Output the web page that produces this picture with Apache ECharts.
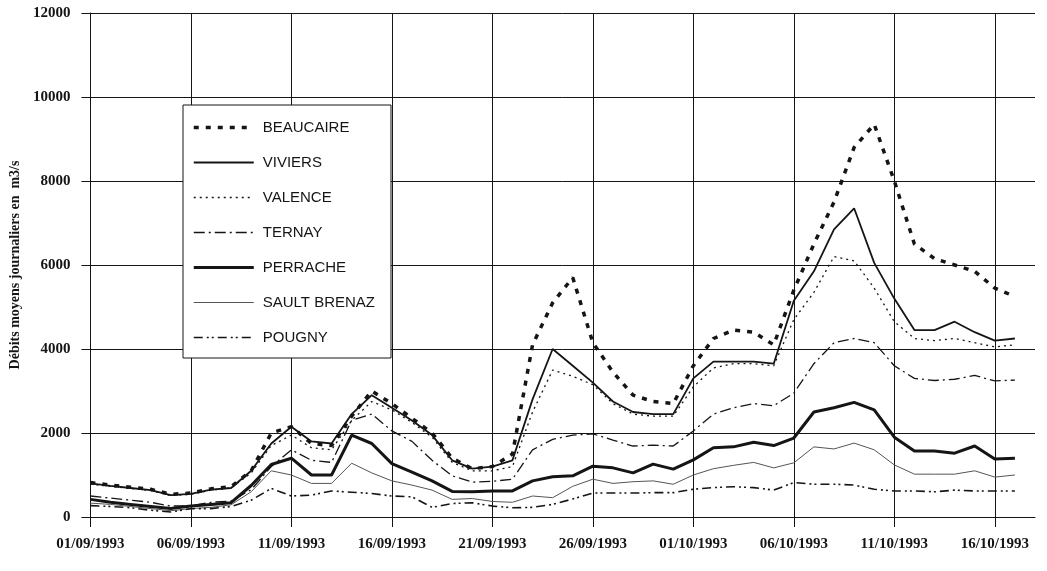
<!DOCTYPE html>
<html>
<head>
<meta charset="utf-8">
<script src="https://cdn.jsdelivr.net/npm/echarts@6/dist/echarts.min.js"></script>
<style>
  html, body { margin: 0; padding: 0; background: #fff; }
  #chart { width: 1047px; height: 571px; }
</style>
</head>
<body>
<div id="chart"></div>
<script>
// days 01/09/1993 .. 18/10/1993 (axis runs a bit past the last measure)
const categories = []
for (let i = 0; i < 48; i++) {
  const d = new Date(1993, 8, 1 + i)
  categories.push(String(d.getDate()).padStart(2, '0') + '/' + String(d.getMonth() + 1).padStart(2, '0') + '/1993')
}

const yTicks = [0, 2000, 4000, 6000, 8000, 10000, 12000]

// Débits moyens journaliers (m3/s), 01/09 -> 17/10
const beaucaire = [820, 760, 710, 660, 540, 570, 670, 720, 1100, 2000, 2150, 1750, 1700, 2400, 3000, 2700, 2350, 2000, 1400, 1150, 1200, 1500, 4100, 5100, 5700, 4150, 3450, 2900, 2750, 2700, 3600, 4250, 4450, 4400, 4100, 5400, 6500, 7500, 8800, 9350, 8000, 6500, 6150, 6000, 5850, 5450, 5250]
const viviers = [800, 740, 690, 640, 520, 550, 650, 690, 1100, 1750, 2150, 1800, 1750, 2450, 2900, 2600, 2300, 1950, 1350, 1150, 1200, 1350, 2800, 4000, 3600, 3200, 2750, 2500, 2450, 2450, 3300, 3700, 3700, 3700, 3650, 5150, 5850, 6850, 7350, 6050, 5200, 4450, 4450, 4650, 4400, 4200, 4250]
const valence = [780, 730, 680, 630, 510, 540, 640, 690, 1050, 1700, 1950, 1650, 1600, 2300, 2750, 2550, 2250, 1900, 1300, 1100, 1100, 1200, 2500, 3500, 3350, 3150, 2700, 2450, 2400, 2400, 3100, 3550, 3650, 3650, 3600, 4700, 5350, 6200, 6100, 5450, 4650, 4250, 4200, 4250, 4150, 4050, 4100]
const ternay = [500, 450, 400, 350, 260, 270, 350, 380, 650, 1200, 1600, 1350, 1300, 2300, 2450, 2050, 1800, 1350, 980, 830, 850, 900, 1600, 1850, 1950, 1980, 1830, 1690, 1710, 1690, 2050, 2450, 2600, 2700, 2650, 2950, 3650, 4150, 4250, 4150, 3600, 3300, 3250, 3280, 3370, 3240, 3260]
const perrache = [420, 350, 300, 250, 200, 260, 300, 340, 750, 1250, 1400, 1000, 1000, 1950, 1750, 1270, 1070, 860, 610, 600, 620, 620, 860, 960, 980, 1210, 1170, 1050, 1260, 1140, 1360, 1650, 1670, 1780, 1700, 1880, 2500, 2600, 2730, 2550, 1900, 1570, 1570, 1520, 1690, 1380, 1400]
const saultBrenaz = [330, 300, 250, 200, 150, 200, 230, 290, 600, 1100, 1000, 800, 800, 1280, 1050, 860, 760, 640, 420, 440, 370, 350, 500, 460, 730, 900, 800, 840, 860, 780, 1000, 1150, 1230, 1300, 1170, 1290, 1670, 1620, 1760, 1600, 1240, 1020, 1020, 1020, 1100, 950, 1000]
const pougny = [270, 250, 220, 160, 120, 200, 200, 250, 400, 680, 500, 520, 620, 590, 560, 500, 480, 230, 320, 340, 260, 220, 230, 300, 430, 570, 570, 570, 580, 580, 660, 700, 720, 700, 640, 820, 780, 780, 760, 660, 620, 620, 600, 640, 620, 620, 620]

const ink = '#151515'

// name, data, line style
const stations = [
  ['BEAUCAIRE', beaucaire, { width: 3.5, type: [5, 7] }],
  ['VIVIERS', viviers, { width: 1.8, type: 'solid' }],
  ['VALENCE', valence, { width: 1.3, type: [2, 4] }],
  ['TERNAY', ternay, { width: 1.3, type: [11, 4, 2, 4] }],
  ['PERRACHE', perrache, { width: 3, type: 'solid' }],
  ['SAULT BRENAZ', saultBrenaz, { width: 1, type: 'solid', color: '#555' }],
  ['POUGNY', pougny, { width: 1.6, type: [9, 4, 2, 3, 2, 4] }]
]

const chart = echarts.init(document.getElementById('chart'), null, { renderer: 'canvas' })

const axisFont = { fontFamily: 'Liberation Serif', fontWeight: 'bold', fontSize: 15, color: ink }

chart.setOption({
  animation: false,
  backgroundColor: '#fff',
  grid: { left: 90, right: 12, top: 13, bottom: 54 },
  legend: {
    orient: 'vertical',
    left: 183,
    top: 105,
    padding: [15, 16, 13, 9],
    itemGap: 20,
    itemWidth: 60,
    itemHeight: 14,
    backgroundColor: '#fff',
    borderColor: ink,
    borderWidth: 1,
    itemStyle: { opacity: 0 },
    textStyle: { fontFamily: 'Liberation Sans', fontSize: 15, color: ink, padding: [0, 0, 0, 4] },
    data: stations.map(s => ({ name: s[0], itemStyle: { opacity: 0 }, lineStyle: Object.assign({ color: ink }, s[2]) }))
  },
  xAxis: {
    type: 'category',
    data: categories,
    boundaryGap: false,
    axisLine: { lineStyle: { color: ink, width: 1 } },
    axisTick: { interval: 4, length: 10, lineStyle: { color: ink } },
    axisLabel: Object.assign({ interval: 4, margin: 20 }, axisFont),
    splitLine: { show: true, interval: 4, lineStyle: { color: ink, width: 1 } }
  },
  yAxis: {
    type: 'value',
    min: yTicks[0],
    max: yTicks[yTicks.length - 1],
    interval: 2000,
    name: 'Débits moyens journaliers en  m3/s',
    nameLocation: 'middle',
    nameGap: 60,
    nameTextStyle: { fontFamily: 'Liberation Serif', fontWeight: 'bold', fontSize: 14, color: ink },
    axisLine: { show: true, lineStyle: { color: ink, width: 1 } },
    axisTick: { show: true, length: 9, lineStyle: { color: ink } },
    axisLabel: Object.assign({ margin: 20, formatter: v => String(v) }, axisFont),
    splitLine: { show: true, lineStyle: { color: ink, width: 1 } }
  },
  series: stations.map(s => ({
    name: s[0],
    type: 'line',
    data: s[1],
    symbol: 'none',
    z: 3,
    lineStyle: Object.assign({ color: ink }, s[2]),
    itemStyle: { color: s[2].color || ink }
  }))
})
</script>
</body>
</html>
